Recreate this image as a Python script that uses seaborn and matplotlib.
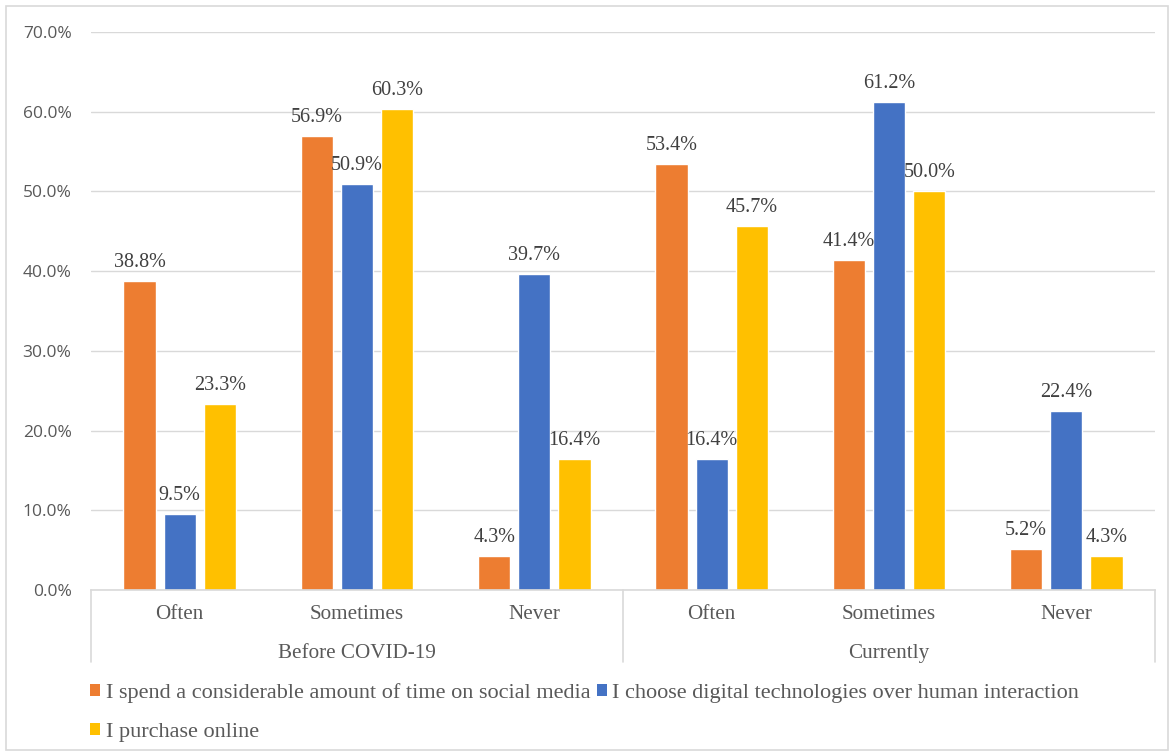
import numpy as np
import pandas as pd
import matplotlib
matplotlib.use("Agg")
import matplotlib.pyplot as plt
import matplotlib.transforms as mtransforms
from matplotlib.patches import Rectangle, Patch
import seaborn as sns

# ---- data ----
periods = ["Before COVID-19", "Currently"]
frequencies = ["Often", "Sometimes", "Never"]
series_names = [
    "I spend a considerable amount of time on social media",
    "I choose digital technologies over human interaction",
    "I purchase online",
]
social_media = [38.8, 56.9, 4.3, 53.4, 41.4, 5.2]
digital_over_human = [9.5, 50.9, 39.7, 16.4, 61.2, 22.4]
purchase_online = [23.3, 60.3, 16.4, 45.7, 50.0, 4.3]
colors = ["#ED7D31", "#4472C4", "#FFC000"]

cat_keys = [f"{p}|{f}" for p in periods for f in frequencies]
rows = []
for name, vals in zip(series_names, [social_media, digital_over_human, purchase_online]):
    for key, v in zip(cat_keys, vals):
        rows.append({"cat": key, "series": name, "value": v})
df = pd.DataFrame(rows)

# ---- style ----
sns.set_theme(style="white")
plt.rcParams["font.family"] = ["Liberation Serif", "DejaVu Serif"]

W, H = 1175, 756
fig = plt.figure(figsize=(W / 100, H / 100), dpi=100)
ax_left, ax_right, ax_top, ax_bottom = 91, 1155, 32, 590
ax = fig.add_axes([ax_left / W, 1 - ax_bottom / H, (ax_right - ax_left) / W, (ax_bottom - ax_top) / H])

sns.barplot(data=df, x="cat", y="value", hue="series", order=cat_keys,
            hue_order=series_names, palette=colors, width=0.68, gap=0.2,
            saturation=1, ax=ax, legend=False)

for cont in ax.containers:
    ax.bar_label(cont, labels=[f"{b.get_height():.1f}%" for b in cont],
                 padding=6.5, fontsize=14.5, color="#404040",
                 family=["Liberation Serif"])

ax.set_ylim(0, 70)
ax.set_xlim(-0.5, 5.5)
ax.set_yticks(np.arange(0, 71, 10))
ax.set_yticklabels([f"{v:.1f}%" for v in np.arange(0, 71, 10)],
                   family=["Open Sans", "DejaVu Sans"], fontsize=12.5, color="#595959")
ax.yaxis.grid(True, color="#D9D9D9", linewidth=1)
ax.set_axisbelow(True)
ax.tick_params(axis="y", length=0, pad=14)
ax.tick_params(axis="x", length=0, pad=11)
ax.set_xticks(range(len(cat_keys)))
ax.set_xticklabels([k.split("|")[1] for k in cat_keys], fontsize=15.2, color="#595959")
ax.set_xlabel("")
ax.set_ylabel("")
for s in ["left", "right", "top"]:
    ax.spines[s].set_visible(False)
ax.spines["bottom"].set_color("#D9D9D9")
ax.spines["bottom"].set_linewidth(1.2)

# two-level category axis
axh = ax_bottom - ax_top
trans = mtransforms.blended_transform_factory(ax.transData, ax.transAxes)
for xsep in [-0.5, 2.5, 5.5]:
    ax.plot([xsep, xsep], [0, -72 / axh], transform=trans, color="#D9D9D9",
            linewidth=1.2, clip_on=False)
for i, p in enumerate(periods):
    ax.text(i * 3 + 1, -63.5 / axh, p, transform=trans, ha="center", va="center",
            fontsize=15.2, color="#595959")

# legend (row-wise order with ncol=2)
handles = [Patch(facecolor=c, edgecolor="none") for c in colors]
order = [0, 2, 1]
fig.legend([handles[i] for i in order], [series_names[i] for i in order],
           ncol=2, loc="upper left", bbox_to_anchor=(90 / W, 1 - 683 / H),
           frameon=False, fontsize=16.0, labelcolor="#595959",
           handlelength=0.45, handleheight=0.45, handletextpad=0.25,
           columnspacing=0.3, labelspacing=0.92, borderaxespad=0, borderpad=0)

# chart border
fig.patches.append(Rectangle((6 / W, 6 / H), (1168 - 6) / W, (750 - 6) / H,
                             transform=fig.transFigure, fill=False,
                             edgecolor="#D9D9D9", linewidth=1.2))

fig.savefig("out.png", dpi=100)
